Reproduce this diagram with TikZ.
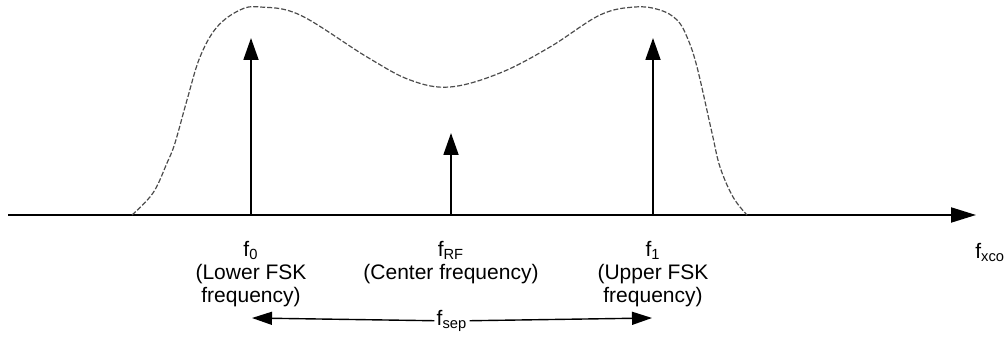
\documentclass[tikz,border=0pt]{standalone}
\usepackage{fontspec}
\setmainfont{Liberation Sans}
\usetikzlibrary{arrows.meta, positioning}

\begin{document}
\begin{tikzpicture}[x=0.5pt, y=-0.5pt,
    axisline/.style = {line width=1pt, -{Triangle[length=12.5pt, width=7.5pt]}},
    toneline/.style = {line width=0.9pt, -{Triangle[length=11pt, width=7.5pt]}},
    sepline/.style = {line width=0.7pt, -{Triangle[length=10pt, width=6.5pt]}},
    envelope/.style = {gray!60!black, line width=0.6pt, dash pattern=on 2.5pt off 1pt},
    freqlabel/.style = {font=\fontsize{10.5}{11.5}\selectfont, align=center, inner sep=0pt, anchor=north}
]
\useasboundingbox (0,0) rectangle (1006,362);

% frequency axis
\coordinate (origin) at (8,215);
\coordinate (axisend) at (976,215);
\draw[axisline] (origin) -- (axisend);
\node[freqlabel, anchor=north west] (xco) at (975,243) {f\textsubscript{xco}};

% spectrum envelope
\draw[envelope] plot[smooth, tension=0.6] coordinates {
    (132,215) (153,193) (167,163) (175,143) (187,100) (200,57) (217,27)
    (240,10) (260,7) (300,15) (367,57) (410,80) (450,87) (500,73)
    (550,47) (600,15) (635,7) (660,10) (677,20) (687,37) (697,67)
    (712,133) (720,167) (733,197) (747,215)};

% tones
\coordinate (lo) at (251,215);
\coordinate (lotop) at (251,38);
\coordinate (rf) at (451,215);
\coordinate (rftop) at (451,133);
\coordinate (hi) at (653,215);
\coordinate (hitop) at (653,38);
\draw[toneline] (lo) -- (lotop);
\draw[toneline] (rf) -- (rftop);
\draw[toneline] (hi) -- (hitop);

\node[freqlabel] (lolab) at (251,241) {f\textsubscript{0}\\(Lower FSK\\frequency)};
\node[freqlabel] (rflab) at (451,241) {f\textsubscript{RF}\\(Center frequency)};
\node[freqlabel] (hilab) at (653,241) {f\textsubscript{1}\\(Upper FSK\\frequency)};

% separation
\coordinate (sepl) at (252,318);
\coordinate (sepr) at (652,318);
\node[font=\fontsize{10.5}{11.5}\selectfont, inner sep=1pt] (sep) at (452,321) {f\textsubscript{sep}};
\draw[sepline] (sep) -- (sepl);
\draw[sepline] (sep) -- (sepr);
\end{tikzpicture}
\end{document}
